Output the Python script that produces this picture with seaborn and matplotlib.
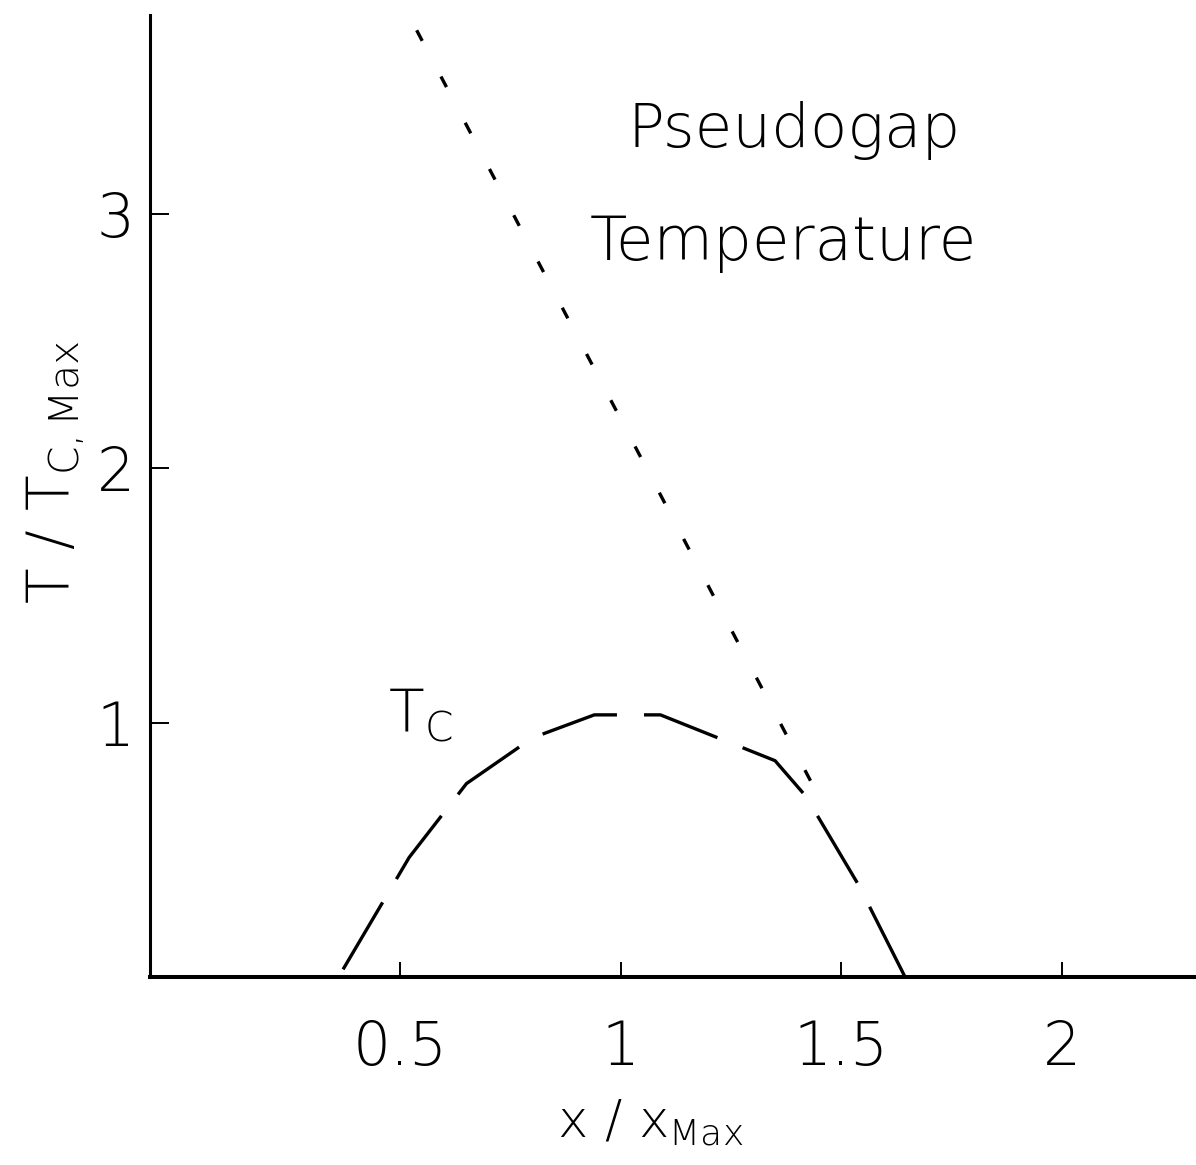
import matplotlib
matplotlib.use("Agg")
import matplotlib.pyplot as plt
import seaborn as sns
import pandas as pd

# ---- data ----
tc_x = [0.37, 0.52, 0.65, 0.80, 0.94, 1.09, 1.35, 1.42, 1.54, 1.645]
tc_y = [0.03, 0.47, 0.76, 0.94, 1.03, 1.03, 0.85, 0.71, 0.36, 0.00]

pg_x = [0.537, 1.465]
pg_y = [3.72, 0.657]

x_ticks = [0.5, 1, 1.5, 2]
x_tick_labels = ["0.5", "1", "1.5", "2"]
y_ticks = [1, 2, 3]
y_tick_labels = ["1", "2", "3"]

sns.set_theme(style="white")
plt.rcParams["font.family"] = ["DejaVu Sans"]
plt.rcParams["font.weight"] = "ultralight"
plt.rcParams["axes.labelweight"] = "ultralight"
plt.rcParams["lines.scale_dashes"] = False
plt.rcParams["text.color"] = "black"
plt.rcParams["axes.labelcolor"] = "black"
plt.rcParams["xtick.color"] = "black"
plt.rcParams["ytick.color"] = "black"

W, H = 1196, 1165
fig = plt.figure(figsize=(W / 100, H / 100), dpi=100)
ax = fig.add_axes([150 / W, 1 - 977 / H, 1046 / W, 962 / H])

tc_df = pd.DataFrame({"x": tc_x, "T": tc_y})
pg_df = pd.DataFrame({"x": pg_x, "T": pg_y})

sns.lineplot(data=tc_df, x="x", y="T", ax=ax, color="black", lw=2.4,
             estimator=None, sort=False)
ax.lines[-1].set_dashes((56, 19.5))
sns.lineplot(data=pg_df, x="x", y="T", ax=ax, color="black", lw=2.4,
             estimator=None, sort=False)
ax.lines[-1].set_dashes((8.6, 29))

ax.set_xlim(-0.068, 2.305)
ax.set_ylim(0, 3.78)
ax.set_xticks(x_ticks)
ax.set_xticklabels(x_tick_labels)
ax.set_yticks(y_ticks)
ax.set_yticklabels(y_tick_labels)

for s in ["top", "right"]:
    ax.spines[s].set_visible(False)
ax.spines["left"].set_linewidth(2.2)
ax.spines["bottom"].set_linewidth(2.9)
for s in ["left", "bottom"]:
    ax.spines[s].set_color("black")

ax.tick_params(axis="x", bottom=True, direction="in", length=10.8, width=1.4,
               pad=30, labelsize=43, colors="black")
ax.tick_params(axis="y", left=True, direction="in", length=14, width=1.4,
               pad=11, labelsize=43, colors="black")

ax.set_xlabel(r"$\mathdefault{x\ /\ x_{Max}}$", fontsize=37, color="black",
              fontweight="ultralight")
ax.xaxis.set_label_coords(0.478, -0.125)
ax.set_ylabel(r"$\mathdefault{T\ /\ T_{C,Max}}$", fontsize=42, color="black",
              fontweight="ultralight")
ax.yaxis.set_label_coords(-0.06, 0.525)

ax.text(0.472, 0.965, r"$\mathdefault{T_C}$", fontsize=42, ha="left",
        va="baseline", color="black")
ax.text(1.393, 3.261, "Pseudogap", fontsize=44, ha="center",
        va="baseline", color="black")
ax.text(1.369, 2.816, "Temperature", fontsize=44, ha="center",
        va="baseline", color="black")

fig.savefig("out.png", dpi=100, facecolor="white")
